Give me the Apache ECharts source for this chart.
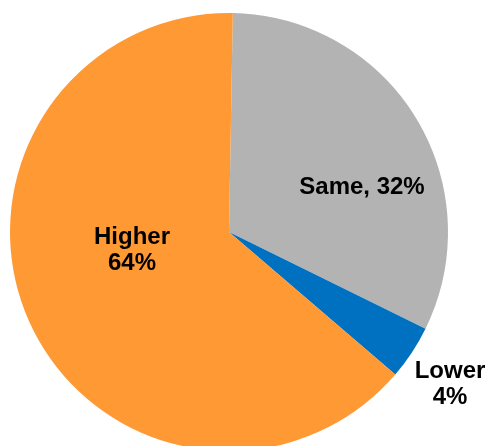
<!DOCTYPE html>
<html>
<head>
<meta charset="utf-8">
<script src="https://cdn.jsdelivr.net/npm/echarts@6/dist/echarts.min.js"></script>
<style>html,body{margin:0;padding:0;background:#fff;}#c{width:487px;height:446px;}</style>
</head>
<body>
<div id="c"></div>
<script>
const categories = ['Same', 'Lower', 'Higher'];
const values = [32, 4, 64];
const labelTexts = ['Same, 32%', 'Lower\n4%', 'Higher\n64%'];

const colors = ['#B3B3B3', '#0070C0', '#FF9933'];
const labelPos = [[362, 187], [450, 384], [132, 250]];

const chart = echarts.init(document.getElementById('c'));
chart.setOption({
  animation: false,
  series: [{
    type: 'pie',
    center: [229, 232],
    radius: 219,
    startAngle: 89,
    clockwise: true,
    data: categories.map((c, i) => ({
      name: c,
      value: values[i],
      itemStyle: { color: colors[i] },
      label: { formatter: labelTexts[i] }
    })),
    itemStyle: { borderWidth: 0 },
    label: {
      show: true,
      position: 'inside',
      color: '#000',
      fontFamily: 'Liberation Sans, Arial, sans-serif',
      fontWeight: 'bold',
      fontSize: 24,
      lineHeight: 26,
      align: 'center',
      verticalAlign: 'middle'
    },
    labelLine: { show: false },
    labelLayout: function (p) {
      return { x: labelPos[p.dataIndex][0], y: labelPos[p.dataIndex][1], align: 'center', verticalAlign: 'middle' };
    }
  }]
});
</script>
</body>
</html>
